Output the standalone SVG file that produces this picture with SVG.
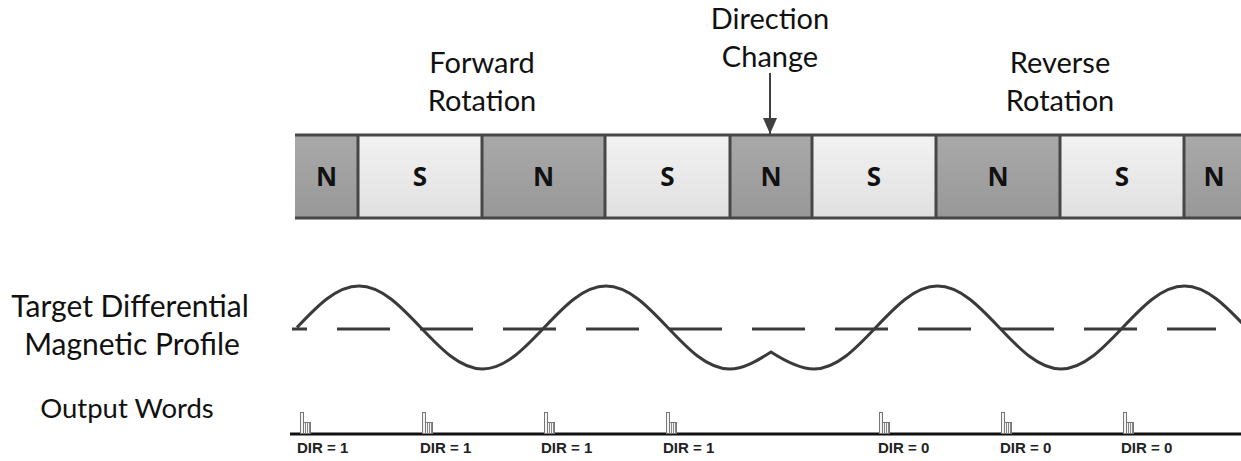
<svg xmlns="http://www.w3.org/2000/svg" width="1241" height="461" viewBox="0 0 1241 461">
<style>
.lbl{font-family:Lato,"Open Sans","Liberation Sans",sans-serif;font-size:29px;fill:#111;text-anchor:middle}
.big{font-size:30px}
.ow{font-size:27.5px}
.pole{font-family:"Open Sans","Liberation Sans",sans-serif;font-weight:bold;font-size:26px;fill:#111;text-anchor:middle}
.n{fill:url(#gN)}
.s{fill:url(#gS)}
.div{stroke:#474747;stroke-width:3}
.dir{font-family:"Liberation Sans",Arial,sans-serif;font-weight:bold;font-size:15px;fill:#222}
.pt{fill:#f4f4f4;stroke:#777;stroke-width:1}
</style>
<defs>
<linearGradient id="gN" x1="0" y1="0" x2="0" y2="1"><stop offset="0" stop-color="#a9a9a9"/><stop offset="1" stop-color="#989898"/></linearGradient>
<linearGradient id="gS" x1="0" y1="0" x2="0" y2="1"><stop offset="0" stop-color="#f2f2f2"/><stop offset="1" stop-color="#e0e0e0"/></linearGradient>
<marker id="ah" markerWidth="16" markerHeight="14" refX="16" refY="7" orient="auto" markerUnits="userSpaceOnUse" viewBox="0 0 16 14"><path d="M0,0 L16,7 L0,14 Z" fill="#404040"/></marker>
<g id="pulse"><rect class="pt" x="0.5" y="-20.5" width="3" height="21"/><rect class="pt" x="3.5" y="-10.5" width="7" height="11"/><path d="M5.5,-10 V0 M7.5,-10 V0 M9.5,-10 V0" stroke="#888" stroke-width="1"/></g>
</defs>
<rect width="1241" height="461" fill="#fff"/>

<g id="titles">
<text class="lbl" x="482" y="73">Forward</text>
<text class="lbl" x="482" y="111">Rotation</text>
<text class="lbl" x="770" y="29">Direction</text>
<text class="lbl" x="770" y="67">Change</text>
<text class="lbl" x="1060" y="73">Reverse</text>
<text class="lbl" x="1060" y="111">Rotation</text>
</g>

<g id="magnet">
<rect class="n" x="295" y="135" width="63" height="83"/>
<rect class="s" x="358" y="135" width="124" height="83"/>
<rect class="n" x="482" y="135" width="123" height="83"/>
<rect class="s" x="605" y="135" width="125" height="83"/>
<rect class="n" x="730" y="135" width="82" height="83"/>
<rect class="s" x="812" y="135" width="124" height="83"/>
<rect class="n" x="936" y="135" width="124" height="83"/>
<rect class="s" x="1060" y="135" width="124" height="83"/>
<rect class="n" x="1184" y="135" width="57" height="83"/>
<path class="div" d="M295,135 H1241 M295,218 H1241 M358,135 V218 M482,135 V218 M605,135 V218 M730,135 V218 M812,135 V218 M936,135 V218 M1060,135 V218 M1184,135 V218"/>
<text class="pole" x="326.5" y="186">N</text>
<text class="pole" x="420" y="186">S</text>
<text class="pole" x="543.5" y="186">N</text>
<text class="pole" x="667.5" y="186">S</text>
<text class="pole" x="771" y="186">N</text>
<text class="pole" x="874" y="186">S</text>
<text class="pole" x="998" y="186">N</text>
<text class="pole" x="1122" y="186">S</text>
<text class="pole" x="1214" y="186">N</text>
</g>

<g id="connectors">
<line x1="770" y1="73" x2="770" y2="134" stroke="#404040" stroke-width="2" marker-end="url(#ah)"/>
</g>

<g id="profile">
<text class="lbl big" x="130" y="317">Target Differential</text>
<text class="lbl big" x="132" y="355">Magnetic Profile</text>
<line x1="292" y1="329" x2="1216" y2="329" stroke="#3a3a3a" stroke-width="3" stroke-dasharray="53 30" stroke-dashoffset="38"/>
<path d="M297,327.5 C317.1,306.2 336.4,286 359,286 C404,286 437.5,369 482.5,369 C527.5,369 561,286 606,286 C651,286 684.5,369 729.5,369 C743.5,369 757,361 771,352 C785,361 800,369 814,369 C859,369 892.5,286 937.5,286 C982.5,286 1016,369 1061,369 C1106,369 1139.5,286 1184.5,286 C1229.5,286 1263,369 1308,369" fill="none" stroke="#3a3a3a" stroke-width="3"/>
</g>

<g id="output">
<text class="lbl ow" x="127" y="418">Output Words</text>
<line x1="290" y1="434" x2="1241" y2="434" stroke="#111" stroke-width="3"/>
<use href="#pulse" x="300" y="433"/>
<use href="#pulse" x="422" y="433"/>
<use href="#pulse" x="544" y="433"/>
<use href="#pulse" x="666" y="433"/>
<use href="#pulse" x="879" y="433"/>
<use href="#pulse" x="1001" y="433"/>
<use href="#pulse" x="1123" y="433"/>
<text class="dir" x="297" y="453">DIR = 1</text>
<text class="dir" x="420" y="453">DIR = 1</text>
<text class="dir" x="541" y="453">DIR = 1</text>
<text class="dir" x="663" y="453">DIR = 1</text>
<text class="dir" x="878" y="453">DIR = 0</text>
<text class="dir" x="1000" y="453">DIR = 0</text>
<text class="dir" x="1121" y="453">DIR = 0</text>
</g>
</svg>
